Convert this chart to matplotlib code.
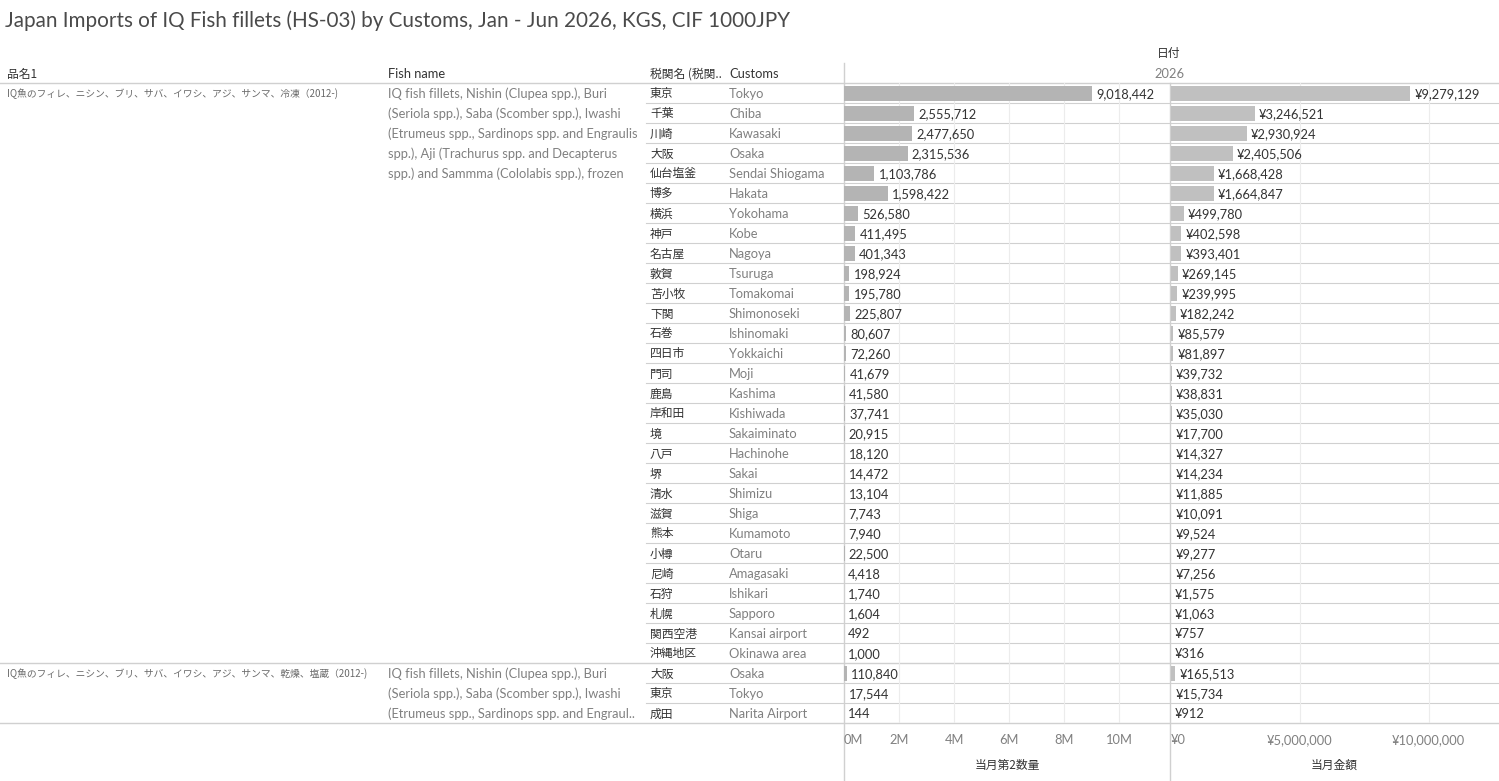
import numpy as np
import matplotlib
matplotlib.use("Agg")
import matplotlib.pyplot as plt
from matplotlib.ticker import FixedLocator

W, H = 1499, 781
JP = ['Noto Sans CJK JP', 'DejaVu Sans']
EN = ['Lato', 'Noto Sans CJK JP', 'DejaVu Sans']

title = "Japan Imports of IQ Fish fillets (HS-03) by Customs, Jan - Jun 2026, KGS, CIF 1000JPY"

groups_jp = ["IQ魚のフィレ、ニシン、ブリ、サバ、イワシ、アジ、サンマ、冷凍（2012-)",
             "IQ魚のフィレ、ニシン、ブリ、サバ、イワシ、アジ、サンマ、乾燥、塩蔵（2012-)"]
groups_en = [["IQ fish fillets, Nishin (Clupea spp.), Buri",
              "(Seriola spp.), Saba (Scomber spp.), Iwashi",
              "(Etrumeus spp., Sardinops spp. and Engraulis",
              "spp.), Aji (Trachurus spp. and Decapterus",
              "spp.) and Sammma (Cololabis spp.), frozen"],
             ["IQ fish fillets, Nishin (Clupea spp.), Buri",
              "(Seriola spp.), Saba (Scomber spp.), Iwashi",
              "(Etrumeus spp., Sardinops spp. and Engraul.."]]
group_sizes = [29, 3]

customs_jp = ["東京", "千葉", "川崎", "大阪", "仙台塩釜", "博多", "横浜", "神戸", "名古屋", "敦賀",
              "苫小牧", "下関", "石巻", "四日市", "門司", "鹿島", "岸和田", "境", "八戸", "堺",
              "清水", "滋賀", "熊本", "小樽", "尼崎", "石狩", "札幌", "関西空港", "沖縄地区",
              "大阪", "東京", "成田"]
customs_en = ["Tokyo", "Chiba", "Kawasaki", "Osaka", "Sendai Shiogama", "Hakata", "Yokohama", "Kobe",
              "Nagoya", "Tsuruga", "Tomakomai", "Shimonoseki", "Ishinomaki", "Yokkaichi", "Moji",
              "Kashima", "Kishiwada", "Sakaiminato", "Hachinohe", "Sakai", "Shimizu", "Shiga",
              "Kumamoto", "Otaru", "Amagasaki", "Ishikari", "Sapporo", "Kansai airport",
              "Okinawa area", "Osaka", "Tokyo", "Narita Airport"]
quantity = [9018442, 2555712, 2477650, 2315536, 1103786, 1598422, 526580, 411495, 401343, 198924,
            195780, 225807, 80607, 72260, 41679, 41580, 37741, 20915, 18120, 14472,
            13104, 7743, 7940, 22500, 4418, 1740, 1604, 492, 1000,
            110840, 17544, 144]
amount = [9279129, 3246521, 2930924, 2405506, 1668428, 1664847, 499780, 402598, 393401, 269145,
          239995, 182242, 85579, 81897, 39732, 38831, 35030, 17700, 14327, 14234,
          11885, 10091, 9524, 9277, 7256, 1575, 1063, 757, 316,
          165513, 15734, 912]

qty_ticks = [0, 2e6, 4e6, 6e6, 8e6, 10e6]
qty_ticklabels = ["0M", "2M", "4M", "6M", "8M", "10M"]
amt_ticks = [0, 5e6, 10e6]
amt_ticklabels = ["¥0", "¥5,000,000", "¥10,000,000"]

# layout in pixels
top, row_h = 83, 20
n = len(quantity)
bottom = top + n * row_h
p1_l, p1_r, p2_r = 844, 1170, 1499
line_c = '#d0d0d0'
dark, mid, light = '#333333', '#6a6a6a', '#808080'
fs = 9.3

fig = plt.figure(figsize=(W / 100, H / 100), dpi=100)
bg = fig.add_axes([0, 0, 1, 1])
bg.set_xlim(0, W)
bg.set_ylim(H, 0)
bg.axis('off')

bg.text(5, 21, title, family=EN, fontsize=14.9, color='#4a4a4a', va='center')

# headers
hy = 74
bg.text(7, hy, "品名1", family=JP, fontsize=8.5, color=dark, va='center')
bg.text(388, hy, "Fish name", family=EN, fontsize=fs, color=dark, va='center')
bg.text(650, hy, "税関名 (税関..", family=JP, fontsize=8.5, color=dark, va='center')
bg.text(729, hy, "Customs", family=EN, fontsize=fs, color=dark, va='center')
bg.text(1169, 54, "日付", family=JP, fontsize=8.5, color=dark, va='center', ha='center')
bg.text(1169, 74, "2026", family=EN, fontsize=fs, color=light, va='center', ha='center')

# lines
bg.plot([0, W], [top, top], color=line_c, lw=1)
start = 0
for g, size in enumerate(group_sizes):
    y0 = top + start * row_h
    bg.text(7, y0 + row_h / 2 + 1, groups_jp[g], family=JP, fontsize=7.0, color=mid, va='center')
    for k, ln in enumerate(groups_en[g]):
        bg.text(388, y0 + row_h / 2 + 1 + k * row_h, ln, family=EN, fontsize=fs, color=light, va='center')
    for k in range(1, size):
        yy = y0 + k * row_h
        bg.plot([646, W], [yy, yy], color=line_c, lw=0.8)
    start += size
    yy = top + start * row_h
    bg.plot([0, W], [yy, yy], color=line_c, lw=1)

bg.plot([p1_l, p1_l], [63, H], color=line_c, lw=1)
bg.plot([p1_r, p1_r], [top, H], color=line_c, lw=1)

for i in range(n):
    yc = top + i * row_h + row_h / 2 + 1
    bg.text(650, yc, customs_jp[i], family=JP, fontsize=8.5, color=dark, va='center')
    bg.text(729, yc, customs_en[i], family=EN, fontsize=fs, color=light, va='center')

bg.text((p1_l + p1_r) / 2, 765, "当月第2数量", family=JP, fontsize=8.5, color=dark, va='center', ha='center')
bg.text((p1_r + p2_r) / 2, 765, "当月金額", family=JP, fontsize=8.5, color=dark, va='center', ha='center')


def panel(left, right, values, xmax, ticks, ticklabels, color, prefix):
    ax = fig.add_axes([left / W, 1 - bottom / H, (right - left) / W, (bottom - top) / H])
    ax.patch.set_alpha(0)
    y = np.arange(len(values))
    ax.barh(y, values, height=0.75, color=color, zorder=2)
    ax.set_ylim(len(values) - 0.5, -0.5)
    ax.set_xlim(0, xmax)
    ax.set_yticks([])
    ax.xaxis.set_major_locator(FixedLocator(ticks))
    ax.set_xticklabels(ticklabels, family=EN, fontsize=fs, color=light)
    ax.get_xticklabels()[0].set_ha('left')
    ax.tick_params(axis='x', length=0, pad=8)
    for t in ticks[1:]:
        ax.axvline(t, color='#ececec', lw=0.8, zorder=1)
    for s in ax.spines.values():
        s.set_visible(False)
    for yi, v in zip(y, values):
        ax.annotate(f"{prefix}{v:,}", (v, yi), xytext=(3, -0.7), textcoords='offset points',
                    va='center', ha='left', family=EN, fontsize=fs, color=dark, zorder=3)
    return ax


panel(p1_l, p1_r, quantity, 11.85e6, qty_ticks, qty_ticklabels, '#b4b4b4', '')
panel(p1_r + 1, p2_r, amount, 12.73e6, amt_ticks, amt_ticklabels, '#c0c0c0', '¥')

fig.savefig("out.png", dpi=100)
